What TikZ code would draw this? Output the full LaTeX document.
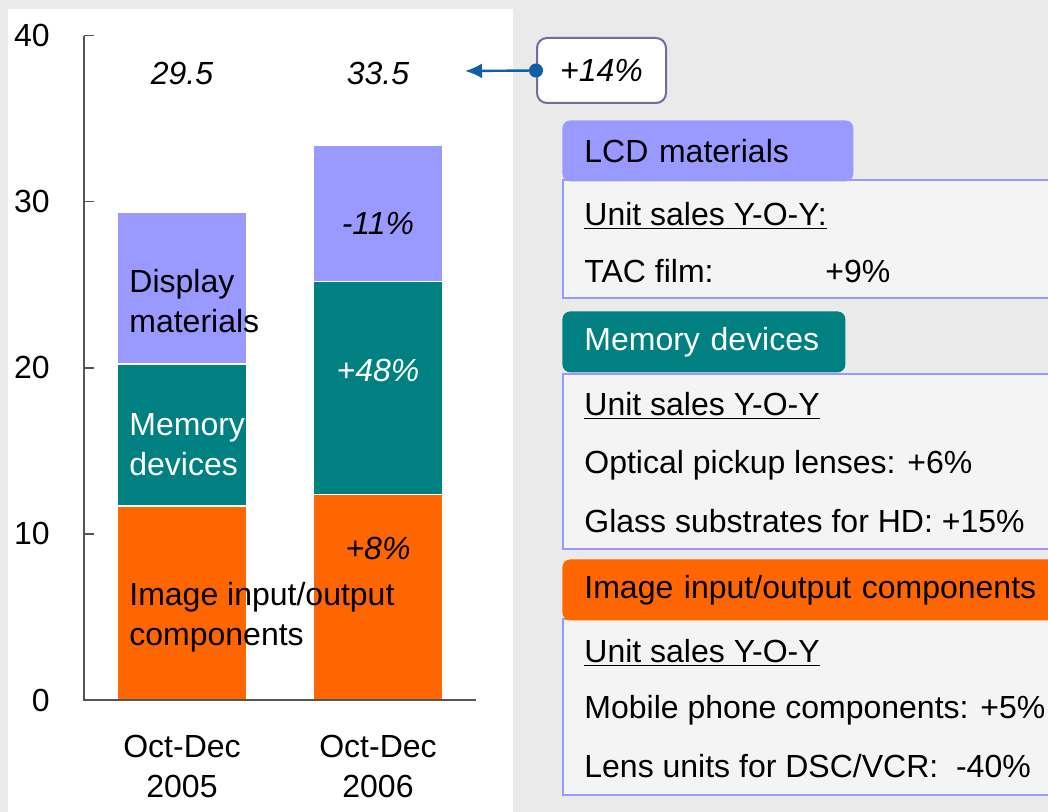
\documentclass[tikz,border=0pt]{standalone}
\usepackage{fontspec}
\setmainfont{Liberation Sans}
\usepackage{tikz}
\usetikzlibrary{positioning,arrows.meta,calc}
\definecolor{lcdblue}{HTML}{9999FF}
\definecolor{memteal}{HTML}{008080}
\definecolor{imgorange}{HTML}{FF6600}
\definecolor{panelgray}{HTML}{EAEAEA}
\definecolor{bodygray}{HTML}{F4F4F4}
\definecolor{arrowblue}{HTML}{0F5FA8}
\definecolor{boxrim}{HTML}{6E6E9E}
\definecolor{axisgray}{HTML}{555555}
\tikzstyle{axis} = [draw=axisgray, line width=0.7pt]
\tikzstyle{seg} = [draw=white, line width=0.6pt]
\tikzstyle{ylab} = [anchor=east, inner sep=0pt]
\tikzstyle{txt} = [anchor=west, inner sep=0pt, align=left]
\tikzstyle{rate} = [inner sep=0pt, font=\fontsize{16}{20}\selectfont\itshape]
\tikzstyle{tab} = [rectangle, rounded corners=4pt, anchor=north west, %
   inner xsep=11pt, align=left, minimum height=30.5pt]
\tikzstyle{body} = [rectangle, draw=lcdblue, line width=0.8pt, fill=bodygray, %
   anchor=north west, minimum width=249pt]
\tikzstyle{ratebox} = [rectangle, draw=boxrim, line width=1pt, fill=white, %
   rounded corners=5pt, minimum width=64.5pt, minimum height=32.5pt, %
   font=\fontsize{16}{20}\selectfont\itshape]
\tikzstyle{link} = [draw=arrowblue, line width=1.2pt, shorten <=-3.5pt, %
   {Circle[length=7pt]}-{Latex[length=8.5pt,width=7.5pt]}]

\begin{document}
\begin{tikzpicture}[x=0.5pt,y=-0.5pt,font=\fontsize{16}{20}\selectfont]
   \useasboundingbox (0,0) rectangle (1048,812);
   \clip (0,0) rectangle (1048,812);
   \fill[panelgray] (0,0) rectangle (1048,812);
   \fill[white] (8,9) rectangle (513,812);

   % CHART %%%%%%%%%%%%%%%%%%%%%%%%%%%%%%%%%%%%%%%%%%%%%%%%%%%%%%%%%%%%
   \begin{scope}[shift={(0,700)},x=0.5pt,y=8.305pt]
      % Bars
      \path[seg, fill=imgorange] (117,0) rectangle (247,11.68);
      \path[seg, fill=memteal] (117,11.68) rectangle (247,20.23);
      \path[seg, fill=lcdblue] (117,20.23) rectangle (247,29.38);
      \path[seg, fill=imgorange] (313,0) rectangle (443,12.37);
      \path[seg, fill=memteal] (313,12.37) rectangle (443,25.2);
      \path[seg, fill=lcdblue] (313,25.2) rectangle (443,33.37);
      % Axes
      \foreach \v in {0,10,...,40}{
         \draw[axis] (84,\v) -- (94,\v);
         \node[ylab] (tick\v) at (50,\v) {\v};
      }
      \draw[axis] (84,40) -- (84,0) -- (476,0);
   \end{scope}

   % Place nodes
   \node[txt] (dispmat) at (129,301) {Display\\materials};
   \node[txt, text=white] (memdev) at (129,445) {Memory\\devices};
   \node[txt] (imgcomp) at (129,617) {Image input/output\\components};

   \node[rate] (lcdgain) at (378,223) {-11\%};
   \node[rate, text=white] (memgain) at (378,370) {+48\%};
   \node[rate] (imggain) at (378,548) {+8\%};

   \node[rate] (total05) at (182,73) {29.5};
   \node[rate] (total06) at (378,73) {33.5};

   \node[align=center, inner sep=0pt] (year05) at (182,766) {Oct-Dec\\2005};
   \node[align=center, inner sep=0pt] (year06) at (378,766) {Oct-Dec\\2006};

   \node[ratebox] (growth) at (601.5,70.5) {+14\%};
   \coordinate (arrowtip) at (465,71);

   % LCD MATERIALS %%%%%%%%%%%%%%%%%%%%%%%%%%%%%%%%%%%%%%%%%%%%%%%%%%%%%
   \node[body, minimum height=59pt] (lcdbody) at (562,179) {};
   \node[tab, fill=lcdblue, text width=123.5pt] (lcdtab) at (562,120) {LCD materials};
   \node[txt] (lcdhead) at (584,216) {\underline{Unit sales Y-O-Y:}};
   \node[txt] (tacfilm) at (584,271) {TAC film:};
   \node[txt, right=55.5pt of tacfilm] (tacgain) {+9\%};

   % MEMORY DEVICES %%%%%%%%%%%%%%%%%%%%%%%%%%%%%%%%%%%%%%%%%%%%%%%%%%%%
   \node[body, minimum height=87.5pt] (membody) at (562,373) {};
   \node[tab, fill=memteal, text=white, text width=119.5pt] (memtab) at (562,311) {Memory devices};
   \node[txt] (memhead) at (584,406) {\underline{Unit sales Y-O-Y}};
   \node[txt] (pickup) at (584,465) {Optical pickup lenses: +6\%};
   \node[txt] (glass) at (584,521) {Glass substrates for HD: +15\%};

   % IMAGE INPUT/OUTPUT %%%%%%%%%%%%%%%%%%%%%%%%%%%%%%%%%%%%%%%%%%%%%%%%
   \node[body, minimum height=88pt] (imgbody) at (562,618) {};
   \node[tab, fill=imgorange, text width=227pt] (imgtab) at (562,559) {Image input/output components};
   \node[txt] (imghead) at (584,653) {\underline{Unit sales Y-O-Y}};
   \node[txt] (mobile) at (584,710) {Mobile phone components: +5\%};
   \node[txt] (lens) at (584,766) {Lens units for DSC/VCR:\ \ -40\%};

   % Draw edges
   \path[link] (growth.west) -- (arrowtip);
\end{tikzpicture}
\end{document}
